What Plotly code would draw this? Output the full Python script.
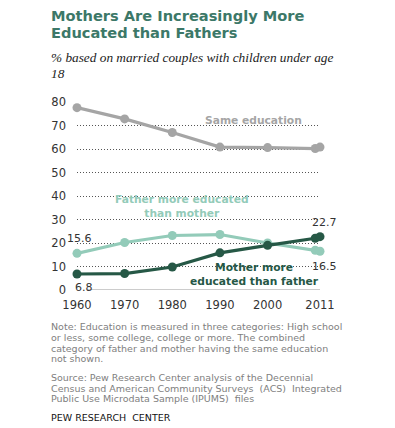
import plotly.graph_objects as go

years = [1960, 1970, 1980, 1990, 2000, 2010, 2011]
same_education = [77.6, 72.8, 67.0, 60.8, 60.6, 60.2, 60.8]
father_more = [15.6, 20.2, 23.2, 23.6, 20.0, 16.9, 16.5]
mother_more = [6.8, 7.0, 9.8, 15.8, 19.0, 22.0, 22.7]
tick_years = [1960, 1970, 1980, 1990, 2000, 2011]
tick_labels = ["1960", "1970", "1980", "1990", "2000", "2011"]
y_ticks = [0, 10, 20, 30, 40, 50, 60, 70, 80]

GRAY = "#a5a5a5"
LIGHT = "#93cbb9"
DARK = "#265846"
TITLE = "#3c7868"
FONT = "DejaVu Sans"

fig = go.Figure()
for vals, col, w in [(same_education, GRAY, 3.2), (father_more, LIGHT, 3.2), (mother_more, DARK, 3.2)]:
    fig.add_trace(go.Scatter(
        x=years, y=vals, mode="lines+markers",
        line=dict(color=col, width=w),
        marker=dict(color=col, size=9),
        cliponaxis=False, showlegend=False, hoverinfo="skip"))

fig.update_layout(
    width=395, height=428,
    margin=dict(l=77, r=75, t=102, b=138),
    paper_bgcolor="white", plot_bgcolor="white",
    font=dict(family=FONT, color="#333333"),
)
fig.update_xaxes(
    range=[1960, 2011], tickvals=tick_years, ticktext=tick_labels,
    showgrid=False, zeroline=False, showline=False, ticks="",
    tickfont=dict(family=FONT, size=11.5, color="#333333"), ticklabelstandoff=6,
)
fig.update_yaxes(
    range=[0, 80], tickvals=y_ticks, showgrid=True, griddash="1px,2px",
    gridcolor="#555555", gridwidth=1, zeroline=False, showline=False, ticks="",
    tickfont=dict(family=FONT, size=11.5, color="#333333"), ticklabelstandoff=10,
)
fig.add_shape(type="line", xref="x domain", yref="y", x0=0.045, x1=1, y0=0, y1=0,
              line=dict(color="#999999", width=1), layer="below")

ann = []
for i, t in enumerate(["Mothers Are Increasingly More", "Educated than Fathers"]):
    ann.append(dict(text="<b>%s</b>" % t, x=49, y=428 - 15.5 - i * 17, size=14.6, color=TITLE))
sub_lines = ["% based on married couples with children under age", "18"]
for i, t in enumerate(sub_lines):
    ann.append(dict(text="<i>%s</i>" % t, x=49, y=428 - 57 - i * 16, family="Liberation Serif", size=13.3, color="#222222"))

note_lines = ["Note: Education is measured in three categories: High school",
              "or less, some college, college or more. The combined",
              "category of father and mother having the same education",
              "not shown."]
for i, t in enumerate(note_lines):
    ann.append(dict(text=t, x=49, y=428 - 326.7 - i * 10.7, size=9.5, color="#808080"))
src_lines = ["Source: Pew Research Center analysis of the Decennial",
             "Census and American Community Surveys  (ACS)  Integrated",
             "Public Use Microdata Sample (IPUMS)  files"]
for i, t in enumerate(src_lines):
    ann.append(dict(text=t, x=49, y=428 - 377.3 - i * 10.7, size=9.5, color="#808080"))
ann.append(dict(text="PEW RESEARCH  CENTER", x=49, y=428 - 417.7, size=9.5, color="#111111"))

for a in ann:
    fig.add_annotation(
        text=a["text"], xref="paper", yref="paper", showarrow=False,
        x=0, y=0, xshift=a["x"] - 77, yshift=a["y"] - 138,
        xanchor="left", yanchor="middle",
        font=dict(family=a.get("family", FONT), size=a.get("size", 10), color=a.get("color", "#333333")),
    )

fig.add_annotation(text="<b>Same education</b>", x=1997.0, y=72.2, showarrow=False,
                   font=dict(family=FONT, size=10.7, color=GRAY))
fig.add_annotation(text="<b>Father more educated<br>than mother</b>", x=1982.0, y=35.5, showarrow=False,
                   font=dict(family=FONT, size=10.7, color=LIGHT))
fig.add_annotation(text="<b>Mother more<br>educated than father</b>", x=1997.2, y=6.5, showarrow=False,
                   font=dict(family=FONT, size=10.7, color=DARK))

vl = dict(showarrow=False, font=dict(family=FONT, size=11, color="#333333"))
fig.add_annotation(text="%.1f" % father_more[0], x=years[0], y=father_more[0], xshift=2, yshift=15, **vl)
fig.add_annotation(text="%.1f" % mother_more[0], x=years[0], y=mother_more[0], xshift=7, yshift=-13, **vl)
fig.add_annotation(text="%.1f" % mother_more[-1], x=years[-1], y=mother_more[-1], xshift=4, yshift=14, **vl)
fig.add_annotation(text="%.1f" % father_more[-1], x=years[-1], y=father_more[-1], xshift=4, yshift=-15, **vl)

fig.write_html("out.html", config={"displayModeBar": False},
               post_script="document.body.style.margin='0';document.body.style.padding='0';")
